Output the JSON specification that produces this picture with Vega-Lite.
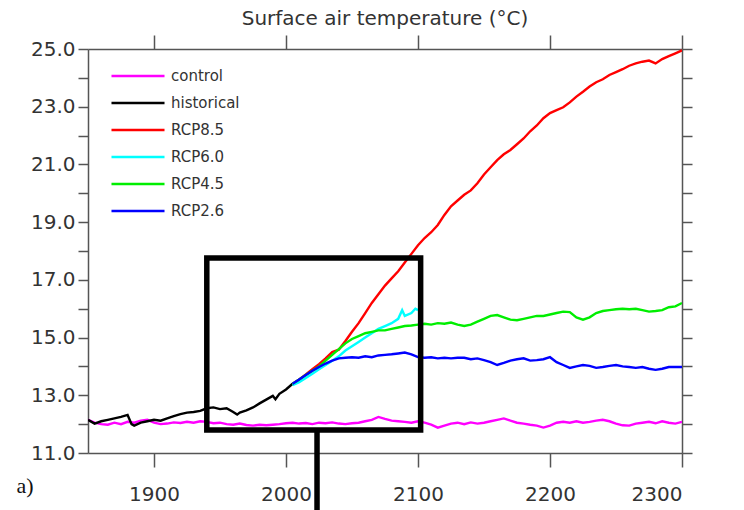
{
  "$schema": "https://vega.github.io/schema/vega-lite/v6.json",
  "width": 594,
  "height": 404,
  "autosize": {"type": "none"},
  "padding": {"left": 88, "top": 49, "right": 62, "bottom": 57},
  "background": "white",
  "title": {"text": "Surface air temperature (°C)", "font": "DejaVu Sans", "fontSize": 20, "fontWeight": "normal", "color": "#333", "anchor": "middle", "offset": 5},
  "layer": [
    {
      "data": {"values": [
        {"s":"control","yr":1850,"t":12.15},{"s":"control","yr":1855,"t":12.05},{"s":"control","yr":1860,"t":12.0},{"s":"control","yr":1865,"t":11.98},{"s":"control","yr":1870,"t":12.05},{"s":"control","yr":1875,"t":12.0},{"s":"control","yr":1880,"t":12.08},{"s":"control","yr":1885,"t":12.05},{"s":"control","yr":1890,"t":12.12},{"s":"control","yr":1895,"t":12.15},{"s":"control","yr":1900,"t":12.05},{"s":"control","yr":1905,"t":12.0},{"s":"control","yr":1910,"t":12.02},{"s":"control","yr":1915,"t":12.06},{"s":"control","yr":1920,"t":12.04},{"s":"control","yr":1925,"t":12.08},{"s":"control","yr":1930,"t":12.05},{"s":"control","yr":1935,"t":12.1},{"s":"control","yr":1940,"t":12.08},{"s":"control","yr":1945,"t":12.03},{"s":"control","yr":1950,"t":12.05},{"s":"control","yr":1955,"t":12.0},{"s":"control","yr":1960,"t":11.98},{"s":"control","yr":1965,"t":12.02},{"s":"control","yr":1970,"t":11.97},{"s":"control","yr":1975,"t":11.95},{"s":"control","yr":1980,"t":11.98},{"s":"control","yr":1985,"t":11.96},{"s":"control","yr":1990,"t":11.98},{"s":"control","yr":1995,"t":12.0},{"s":"control","yr":2000,"t":12.03},{"s":"control","yr":2005,"t":12.05},{"s":"control","yr":2010,"t":12.02},{"s":"control","yr":2015,"t":12.04},{"s":"control","yr":2020,"t":12.0},{"s":"control","yr":2025,"t":12.05},{"s":"control","yr":2030,"t":12.03},{"s":"control","yr":2035,"t":12.06},{"s":"control","yr":2040,"t":12.02},{"s":"control","yr":2045,"t":12.0},{"s":"control","yr":2050,"t":12.03},{"s":"control","yr":2055,"t":12.05},{"s":"control","yr":2060,"t":12.1},{"s":"control","yr":2065,"t":12.15},{"s":"control","yr":2070,"t":12.25},{"s":"control","yr":2075,"t":12.18},{"s":"control","yr":2080,"t":12.12},{"s":"control","yr":2085,"t":12.1},{"s":"control","yr":2090,"t":12.08},{"s":"control","yr":2095,"t":12.05},{"s":"control","yr":2100,"t":12.1},{"s":"control","yr":2105,"t":12.05},{"s":"control","yr":2110,"t":11.98},{"s":"control","yr":2115,"t":11.88},{"s":"control","yr":2120,"t":11.95},{"s":"control","yr":2125,"t":12.02},{"s":"control","yr":2130,"t":12.05},{"s":"control","yr":2135,"t":12.0},{"s":"control","yr":2140,"t":12.06},{"s":"control","yr":2145,"t":12.02},{"s":"control","yr":2150,"t":12.05},{"s":"control","yr":2155,"t":12.1},{"s":"control","yr":2160,"t":12.15},{"s":"control","yr":2165,"t":12.2},{"s":"control","yr":2170,"t":12.12},{"s":"control","yr":2175,"t":12.05},{"s":"control","yr":2180,"t":12.02},{"s":"control","yr":2185,"t":11.98},{"s":"control","yr":2190,"t":11.95},{"s":"control","yr":2195,"t":11.88},{"s":"control","yr":2200,"t":11.95},{"s":"control","yr":2205,"t":12.05},{"s":"control","yr":2210,"t":12.08},{"s":"control","yr":2215,"t":12.05},{"s":"control","yr":2220,"t":12.1},{"s":"control","yr":2225,"t":12.05},{"s":"control","yr":2230,"t":12.08},{"s":"control","yr":2235,"t":12.12},{"s":"control","yr":2240,"t":12.15},{"s":"control","yr":2245,"t":12.1},{"s":"control","yr":2250,"t":12.02},{"s":"control","yr":2255,"t":11.96},{"s":"control","yr":2260,"t":11.95},{"s":"control","yr":2265,"t":12.02},{"s":"control","yr":2270,"t":12.05},{"s":"control","yr":2275,"t":12.08},{"s":"control","yr":2280,"t":12.03},{"s":"control","yr":2285,"t":12.1},{"s":"control","yr":2290,"t":12.05},{"s":"control","yr":2295,"t":12.02},{"s":"control","yr":2300,"t":12.08},
        {"s":"historical","yr":1850,"t":12.15},{"s":"historical","yr":1855,"t":12.02},{"s":"historical","yr":1860,"t":12.1},{"s":"historical","yr":1865,"t":12.15},{"s":"historical","yr":1870,"t":12.2},{"s":"historical","yr":1875,"t":12.25},{"s":"historical","yr":1880,"t":12.32},{"s":"historical","yr":1883,"t":12.0},{"s":"historical","yr":1885,"t":11.95},{"s":"historical","yr":1890,"t":12.05},{"s":"historical","yr":1895,"t":12.1},{"s":"historical","yr":1900,"t":12.15},{"s":"historical","yr":1905,"t":12.12},{"s":"historical","yr":1910,"t":12.2},{"s":"historical","yr":1915,"t":12.28},{"s":"historical","yr":1920,"t":12.35},{"s":"historical","yr":1925,"t":12.4},{"s":"historical","yr":1930,"t":12.42},{"s":"historical","yr":1935,"t":12.46},{"s":"historical","yr":1940,"t":12.55},{"s":"historical","yr":1945,"t":12.58},{"s":"historical","yr":1950,"t":12.52},{"s":"historical","yr":1955,"t":12.55},{"s":"historical","yr":1960,"t":12.42},{"s":"historical","yr":1963,"t":12.33},{"s":"historical","yr":1965,"t":12.4},{"s":"historical","yr":1970,"t":12.48},{"s":"historical","yr":1975,"t":12.58},{"s":"historical","yr":1980,"t":12.72},{"s":"historical","yr":1985,"t":12.85},{"s":"historical","yr":1990,"t":12.98},{"s":"historical","yr":1992,"t":12.86},{"s":"historical","yr":1995,"t":13.05},{"s":"historical","yr":2000,"t":13.2},{"s":"historical","yr":2005,"t":13.4},
        {"s":"RCP8.5","yr":2005,"t":13.4},{"s":"RCP8.5","yr":2010,"t":13.55},{"s":"RCP8.5","yr":2015,"t":13.72},{"s":"RCP8.5","yr":2020,"t":13.9},{"s":"RCP8.5","yr":2025,"t":14.08},{"s":"RCP8.5","yr":2030,"t":14.28},{"s":"RCP8.5","yr":2035,"t":14.5},{"s":"RCP8.5","yr":2040,"t":14.58},{"s":"RCP8.5","yr":2045,"t":14.88},{"s":"RCP8.5","yr":2050,"t":15.2},{"s":"RCP8.5","yr":2055,"t":15.5},{"s":"RCP8.5","yr":2060,"t":15.85},{"s":"RCP8.5","yr":2065,"t":16.2},{"s":"RCP8.5","yr":2070,"t":16.5},{"s":"RCP8.5","yr":2075,"t":16.8},{"s":"RCP8.5","yr":2080,"t":17.05},{"s":"RCP8.5","yr":2085,"t":17.3},{"s":"RCP8.5","yr":2090,"t":17.6},{"s":"RCP8.5","yr":2095,"t":17.9},{"s":"RCP8.5","yr":2100,"t":18.2},{"s":"RCP8.5","yr":2105,"t":18.45},{"s":"RCP8.5","yr":2110,"t":18.65},{"s":"RCP8.5","yr":2115,"t":18.9},{"s":"RCP8.5","yr":2120,"t":19.25},{"s":"RCP8.5","yr":2125,"t":19.55},{"s":"RCP8.5","yr":2130,"t":19.75},{"s":"RCP8.5","yr":2135,"t":19.95},{"s":"RCP8.5","yr":2140,"t":20.1},{"s":"RCP8.5","yr":2145,"t":20.35},{"s":"RCP8.5","yr":2150,"t":20.65},{"s":"RCP8.5","yr":2155,"t":20.9},{"s":"RCP8.5","yr":2160,"t":21.15},{"s":"RCP8.5","yr":2165,"t":21.35},{"s":"RCP8.5","yr":2170,"t":21.5},{"s":"RCP8.5","yr":2175,"t":21.7},{"s":"RCP8.5","yr":2180,"t":21.9},{"s":"RCP8.5","yr":2185,"t":22.15},{"s":"RCP8.5","yr":2190,"t":22.35},{"s":"RCP8.5","yr":2195,"t":22.6},{"s":"RCP8.5","yr":2200,"t":22.78},{"s":"RCP8.5","yr":2205,"t":22.88},{"s":"RCP8.5","yr":2210,"t":22.98},{"s":"RCP8.5","yr":2215,"t":23.15},{"s":"RCP8.5","yr":2220,"t":23.35},{"s":"RCP8.5","yr":2225,"t":23.52},{"s":"RCP8.5","yr":2230,"t":23.7},{"s":"RCP8.5","yr":2235,"t":23.85},{"s":"RCP8.5","yr":2240,"t":23.95},{"s":"RCP8.5","yr":2245,"t":24.1},{"s":"RCP8.5","yr":2250,"t":24.2},{"s":"RCP8.5","yr":2255,"t":24.3},{"s":"RCP8.5","yr":2260,"t":24.42},{"s":"RCP8.5","yr":2265,"t":24.5},{"s":"RCP8.5","yr":2270,"t":24.56},{"s":"RCP8.5","yr":2275,"t":24.6},{"s":"RCP8.5","yr":2280,"t":24.5},{"s":"RCP8.5","yr":2285,"t":24.65},{"s":"RCP8.5","yr":2290,"t":24.75},{"s":"RCP8.5","yr":2295,"t":24.85},{"s":"RCP8.5","yr":2300,"t":24.95},
        {"s":"RCP6.0","yr":2005,"t":13.35},{"s":"RCP6.0","yr":2010,"t":13.45},{"s":"RCP6.0","yr":2015,"t":13.6},{"s":"RCP6.0","yr":2020,"t":13.75},{"s":"RCP6.0","yr":2025,"t":13.9},{"s":"RCP6.0","yr":2030,"t":14.05},{"s":"RCP6.0","yr":2035,"t":14.2},{"s":"RCP6.0","yr":2040,"t":14.35},{"s":"RCP6.0","yr":2045,"t":14.55},{"s":"RCP6.0","yr":2050,"t":14.7},{"s":"RCP6.0","yr":2055,"t":14.85},{"s":"RCP6.0","yr":2060,"t":15.0},{"s":"RCP6.0","yr":2065,"t":15.15},{"s":"RCP6.0","yr":2070,"t":15.3},{"s":"RCP6.0","yr":2075,"t":15.4},{"s":"RCP6.0","yr":2080,"t":15.5},{"s":"RCP6.0","yr":2085,"t":15.65},{"s":"RCP6.0","yr":2088,"t":15.95},{"s":"RCP6.0","yr":2090,"t":15.75},{"s":"RCP6.0","yr":2095,"t":15.85},{"s":"RCP6.0","yr":2098,"t":16.0},{"s":"RCP6.0","yr":2100,"t":15.95},
        {"s":"RCP4.5","yr":2005,"t":13.4},{"s":"RCP4.5","yr":2010,"t":13.55},{"s":"RCP4.5","yr":2015,"t":13.7},{"s":"RCP4.5","yr":2020,"t":13.85},{"s":"RCP4.5","yr":2025,"t":14.0},{"s":"RCP4.5","yr":2030,"t":14.2},{"s":"RCP4.5","yr":2035,"t":14.4},{"s":"RCP4.5","yr":2040,"t":14.6},{"s":"RCP4.5","yr":2045,"t":14.8},{"s":"RCP4.5","yr":2050,"t":14.95},{"s":"RCP4.5","yr":2055,"t":15.05},{"s":"RCP4.5","yr":2060,"t":15.15},{"s":"RCP4.5","yr":2065,"t":15.2},{"s":"RCP4.5","yr":2070,"t":15.25},{"s":"RCP4.5","yr":2075,"t":15.25},{"s":"RCP4.5","yr":2080,"t":15.3},{"s":"RCP4.5","yr":2085,"t":15.35},{"s":"RCP4.5","yr":2090,"t":15.4},{"s":"RCP4.5","yr":2095,"t":15.42},{"s":"RCP4.5","yr":2100,"t":15.45},{"s":"RCP4.5","yr":2105,"t":15.48},{"s":"RCP4.5","yr":2110,"t":15.45},{"s":"RCP4.5","yr":2115,"t":15.5},{"s":"RCP4.5","yr":2120,"t":15.48},{"s":"RCP4.5","yr":2125,"t":15.52},{"s":"RCP4.5","yr":2130,"t":15.45},{"s":"RCP4.5","yr":2135,"t":15.4},{"s":"RCP4.5","yr":2140,"t":15.45},{"s":"RCP4.5","yr":2145,"t":15.55},{"s":"RCP4.5","yr":2150,"t":15.65},{"s":"RCP4.5","yr":2155,"t":15.75},{"s":"RCP4.5","yr":2160,"t":15.78},{"s":"RCP4.5","yr":2165,"t":15.7},{"s":"RCP4.5","yr":2170,"t":15.62},{"s":"RCP4.5","yr":2175,"t":15.6},{"s":"RCP4.5","yr":2180,"t":15.65},{"s":"RCP4.5","yr":2185,"t":15.7},{"s":"RCP4.5","yr":2190,"t":15.75},{"s":"RCP4.5","yr":2195,"t":15.75},{"s":"RCP4.5","yr":2200,"t":15.8},{"s":"RCP4.5","yr":2205,"t":15.85},{"s":"RCP4.5","yr":2210,"t":15.9},{"s":"RCP4.5","yr":2215,"t":15.88},{"s":"RCP4.5","yr":2220,"t":15.7},{"s":"RCP4.5","yr":2225,"t":15.62},{"s":"RCP4.5","yr":2230,"t":15.7},{"s":"RCP4.5","yr":2235,"t":15.85},{"s":"RCP4.5","yr":2240,"t":15.92},{"s":"RCP4.5","yr":2245,"t":15.95},{"s":"RCP4.5","yr":2250,"t":15.98},{"s":"RCP4.5","yr":2255,"t":16.0},{"s":"RCP4.5","yr":2260,"t":15.98},{"s":"RCP4.5","yr":2265,"t":16.0},{"s":"RCP4.5","yr":2270,"t":15.95},{"s":"RCP4.5","yr":2275,"t":15.9},{"s":"RCP4.5","yr":2280,"t":15.92},{"s":"RCP4.5","yr":2285,"t":15.95},{"s":"RCP4.5","yr":2290,"t":16.05},{"s":"RCP4.5","yr":2295,"t":16.08},{"s":"RCP4.5","yr":2300,"t":16.2},
        {"s":"RCP2.6","yr":2005,"t":13.4},{"s":"RCP2.6","yr":2010,"t":13.55},{"s":"RCP2.6","yr":2015,"t":13.7},{"s":"RCP2.6","yr":2020,"t":13.85},{"s":"RCP2.6","yr":2025,"t":13.98},{"s":"RCP2.6","yr":2030,"t":14.1},{"s":"RCP2.6","yr":2035,"t":14.2},{"s":"RCP2.6","yr":2040,"t":14.28},{"s":"RCP2.6","yr":2045,"t":14.3},{"s":"RCP2.6","yr":2050,"t":14.32},{"s":"RCP2.6","yr":2055,"t":14.3},{"s":"RCP2.6","yr":2060,"t":14.35},{"s":"RCP2.6","yr":2065,"t":14.32},{"s":"RCP2.6","yr":2070,"t":14.38},{"s":"RCP2.6","yr":2075,"t":14.4},{"s":"RCP2.6","yr":2080,"t":14.42},{"s":"RCP2.6","yr":2085,"t":14.45},{"s":"RCP2.6","yr":2090,"t":14.48},{"s":"RCP2.6","yr":2095,"t":14.42},{"s":"RCP2.6","yr":2100,"t":14.32},{"s":"RCP2.6","yr":2105,"t":14.3},{"s":"RCP2.6","yr":2110,"t":14.32},{"s":"RCP2.6","yr":2115,"t":14.28},{"s":"RCP2.6","yr":2120,"t":14.3},{"s":"RCP2.6","yr":2125,"t":14.28},{"s":"RCP2.6","yr":2130,"t":14.3},{"s":"RCP2.6","yr":2135,"t":14.3},{"s":"RCP2.6","yr":2140,"t":14.25},{"s":"RCP2.6","yr":2145,"t":14.28},{"s":"RCP2.6","yr":2150,"t":14.22},{"s":"RCP2.6","yr":2155,"t":14.15},{"s":"RCP2.6","yr":2160,"t":14.05},{"s":"RCP2.6","yr":2165,"t":14.12},{"s":"RCP2.6","yr":2170,"t":14.2},{"s":"RCP2.6","yr":2175,"t":14.25},{"s":"RCP2.6","yr":2180,"t":14.28},{"s":"RCP2.6","yr":2185,"t":14.2},{"s":"RCP2.6","yr":2190,"t":14.22},{"s":"RCP2.6","yr":2195,"t":14.25},{"s":"RCP2.6","yr":2200,"t":14.32},{"s":"RCP2.6","yr":2205,"t":14.15},{"s":"RCP2.6","yr":2210,"t":14.05},{"s":"RCP2.6","yr":2215,"t":13.95},{"s":"RCP2.6","yr":2220,"t":14.0},{"s":"RCP2.6","yr":2225,"t":14.05},{"s":"RCP2.6","yr":2230,"t":14.02},{"s":"RCP2.6","yr":2235,"t":13.95},{"s":"RCP2.6","yr":2240,"t":13.98},{"s":"RCP2.6","yr":2245,"t":14.02},{"s":"RCP2.6","yr":2250,"t":14.05},{"s":"RCP2.6","yr":2255,"t":14.0},{"s":"RCP2.6","yr":2260,"t":13.98},{"s":"RCP2.6","yr":2265,"t":13.95},{"s":"RCP2.6","yr":2270,"t":13.98},{"s":"RCP2.6","yr":2275,"t":13.92},{"s":"RCP2.6","yr":2280,"t":13.88},{"s":"RCP2.6","yr":2285,"t":13.92},{"s":"RCP2.6","yr":2290,"t":13.98},{"s":"RCP2.6","yr":2295,"t":13.98},{"s":"RCP2.6","yr":2300,"t":13.98}
      ]},
      "mark": {"type": "line", "strokeWidth": 2.4, "clip": true},
      "encoding": {
        "x": {"field": "yr", "type": "quantitative", "scale": {"domain": [1850, 2300], "nice": false, "zero": false},
              "axis": {"orient": "bottom", "values": [1900, 2000, 2100, 2200, 2300], "format": "d", "tickSize": 14, "labelPadding": 17, "title": "a)", "titleFont": "Liberation Serif", "titleFontSize": 22, "titleFontWeight": "normal", "titleColor": "#111", "titleAnchor": "start", "titleAlign": "left", "titleBaseline": "middle", "titleX": -72, "titleY": 32}},
        "y": {"field": "t", "type": "quantitative", "scale": {"domain": [11, 25], "nice": false, "zero": false},
              "axis": {"orient": "left", "values": [11,12,13,14,15,16,17,18,19,20,21,22,23,24,25], "tickSize": 10, "labelPadding": 3, "labelExpr": "datum.value % 2 == 1 ? format(datum.value, '.1f') : ''", "title": null}},
        "color": {"field": "s", "type": "nominal",
                  "scale": {"domain": ["control", "historical", "RCP8.5", "RCP6.0", "RCP4.5", "RCP2.6"], "range": ["#ff00ff", "#000000", "#ff0000", "#00ffff", "#00ee00", "#0000ff"]},
                  "legend": {"orient": "none", "legendX": 38, "legendY": 15, "title": null, "symbolType": "M-2.5,0H2.5", "symbolSize": 450, "symbolStrokeWidth": 2.5, "labelFont": "DejaVu Sans", "labelFontSize": 15, "labelColor": "#333", "rowPadding": 7, "labelOffset": 21, "padding": 0}}
      }
    },
    {
      "data": {"values": [{"x1": 1940, "x2": 2102, "y1": 11.8, "y2": 17.76}]},
      "mark": {"type": "rect", "fill": null, "fillOpacity": 0, "stroke": "#000000", "strokeWidth": 5.5, "clip": false},
      "encoding": {
        "x": {"field": "x1", "type": "quantitative", "axis": {"orient": "top", "values": [1900, 2000, 2100, 2200, 2300], "tickSize": 14, "labels": false, "title": null}},
        "x2": {"field": "x2"},
        "y": {"field": "y1", "type": "quantitative", "axis": {"orient": "right", "values": [11,12,13,14,15,16,17,18,19,20,21,22,23,24,25], "tickSize": 10, "labels": false, "title": null}},
        "y2": {"field": "y2"}
      }
    },
    {
      "data": {"values": [{"xr": 2023.5, "ya": 11.8, "yb": 9.0}]},
      "mark": {"type": "rule", "stroke": "#000000", "strokeWidth": 5.5, "clip": false},
      "encoding": {
        "x": {"field": "xr", "type": "quantitative", "axis": null},
        "y": {"field": "ya", "type": "quantitative", "axis": null},
        "y2": {"field": "yb"}
      }
    }
  ],
  "resolve": {"axis": {"x": "independent", "y": "independent"}},
  "config": {
    "view": {"stroke": null},
    "axis": {"grid": false, "domainColor": "#555", "tickColor": "#555", "domainWidth": 1.5, "tickWidth": 1.5, "labelFont": "DejaVu Sans", "labelFontSize": 20, "labelColor": "#333"}
  }
}
